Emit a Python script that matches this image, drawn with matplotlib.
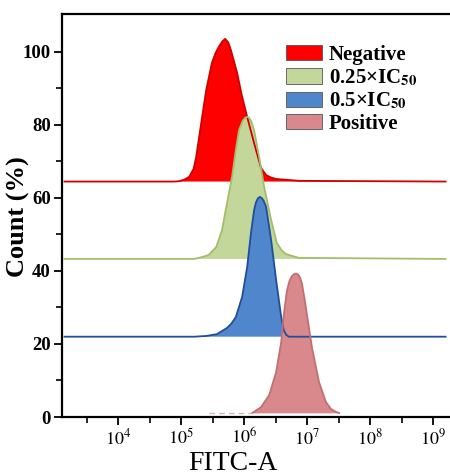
import numpy as np
import matplotlib
matplotlib.use('Agg')
import matplotlib.pyplot as plt
from matplotlib.patches import Patch
from matplotlib.ticker import FixedLocator, NullFormatter

plt.rcParams['font.family'] = ['Liberation Serif', 'DejaVu Serif']
plt.rcParams['mathtext.fontset'] = 'stix'

# histogram outlines: log10(FITC-A) and count (%)
red_logx = [3.15, 4.89, 4.97, 5.05, 5.13, 5.20, 5.24, 5.32, 5.40, 5.49, 5.55, 5.60, 5.65,
            5.70, 5.75, 5.79, 5.89, 5.97, 6.05, 6.16, 6.27, 6.35, 6.43, 6.51, 6.87, 9.20]
red_y = [64.5, 64.5, 64.6, 65.0, 65.8, 68.0, 71.2, 80.5, 89.6, 97.0, 99.8, 101.4, 102.8,
         103.6, 102.6, 100.6, 94.3, 87.7, 82.2, 75.0, 68.2, 66.3, 65.6, 65.2, 64.7, 64.5]
red_base = 64.5

green_logx = [3.15, 5.21, 5.33, 5.44, 5.56, 5.65, 5.73, 5.81, 5.87, 5.92, 5.98, 6.02, 6.05,
              6.08, 6.11, 6.16, 6.24, 6.32, 6.43, 6.52, 6.60, 6.67, 6.87, 9.20]
green_y = [43.3, 43.3, 43.8, 44.4, 46.6, 51.2, 58.6, 65.8, 73.2, 78.6, 81.2, 82.0, 82.2,
           82.0, 81.2, 78.6, 71.2, 63.0, 54.0, 47.7, 45.6, 44.6, 43.6, 43.3]
green_base = 43.3

blue_logx = [3.15, 5.21, 5.40, 5.57, 5.73, 5.80, 5.87, 5.97, 6.05, 6.11, 6.16, 6.19, 6.22,
             6.25, 6.28, 6.31, 6.35, 6.43, 6.51, 6.59, 6.63, 6.67, 6.71, 9.20]
blue_y = [22.0, 22.0, 22.2, 22.7, 24.4, 25.6, 27.4, 32.9, 41.1, 50.4, 56.7, 58.8, 59.9,
          60.3, 60.0, 59.3, 57.6, 48.5, 37.5, 27.4, 23.8, 22.5, 22.0, 22.0]
blue_base = 22.0

pink_logx = [6.13, 6.27, 6.40, 6.51, 6.59, 6.63, 6.68, 6.72, 6.76, 6.80, 6.83, 6.86,
             6.89, 6.92, 6.96, 7.00, 7.08, 7.19, 7.30, 7.38, 7.46, 7.51]
pink_y = [1.1, 2.7, 6.0, 12.3, 20.5, 27.9, 34.5, 37.2, 38.6, 39.2, 39.3, 39.0,
          38.2, 36.5, 32.5, 27.9, 18.9, 9.6, 4.1, 2.2, 1.4, 1.1]
pink_base = 1.0
pink_tail_logx = [5.44, 6.13]

labels = ['Negative', r'0.25×IC$_{\mathbf{50}}$', r'0.5×IC$_{\mathbf{50}}$', 'Positive']
x_major = [4, 5, 6, 7, 8, 9]
y_major = [0, 20, 40, 60, 80, 100]

series = [
  (red_logx, red_y, red_base, '#ff0000', '#d00000'),
  (green_logx, green_y, green_base, '#c4d79b', '#a3be6a'),
  (blue_logx, blue_y, blue_base, '#4f86cc', '#1f4f9a'),
  (pink_logx, pink_y, pink_base, '#d9898b', '#c07074'),
]

fig = plt.figure(figsize=(4.5, 4.76), dpi=100)
ax = fig.add_axes([62/450, 59/476, 388/450, 403/476])

for lx, y, base, fc, ec in series:
  x = 10 ** np.array(lx)
  ax.fill_between(x, base, y, facecolor=fc, edgecolor='none')
  ax.plot(x, y, color=ec, lw=1.3)

ax.plot(10 ** np.array(pink_tail_logx), [pink_base, pink_base], color='#d8b0b0',
        lw=1.0, ls=(0, (4, 3)))

ax.set_xscale('log')
ax.set_xlim(10 ** 3.11, 10 ** 9.27)
ax.set_ylim(0, 110.4)

ax.xaxis.set_major_locator(FixedLocator([10.0 ** k for k in x_major]))
ax.xaxis.set_minor_locator(FixedLocator([10.0 ** (k + 0.5) for k in range(3, 9)]))
ax.xaxis.set_minor_formatter(NullFormatter())
ax.set_xticklabels([r'$10^{%d}$' % k for k in x_major], fontsize=13)
ax.set_yticks(y_major)
ax.set_yticks([10, 30, 50, 70, 90], minor=True)
ax.set_yticklabels([str(v) for v in y_major], fontsize=13.5, fontweight='bold')

ax.tick_params(which='major', length=6, width=1.3, pad=2)
ax.tick_params(which='minor', length=4, width=1.2)
ax.tick_params(top=False, right=False)

for s in ['left', 'bottom', 'top']:
  ax.spines[s].set_linewidth(1.6)
ax.spines['right'].set_visible(False)

fig.text(233/450, 1 - 464/476, 'FITC-A', fontsize=20, ha='center', va='center')
fig.text(18/450, 1 - 217/476, 'Count (%)', fontsize=19, fontweight='bold',
         rotation=90, ha='center', va='center')

handles = [Patch(facecolor=fc, edgecolor='#555555', lw=0.6) for _, _, _, fc, _ in series]
leg = ax.legend(handles, labels, loc='upper left', bbox_to_anchor=((286 - 62) / 388, 1 - 31/403),
                bbox_transform=ax.transAxes, frameon=False, handlelength=1.75, handleheight=0.75,
                handletextpad=0.3, labelspacing=0.12, borderaxespad=0, borderpad=0,
                prop={'family': 'Liberation Serif', 'weight': 'bold', 'size': 15})

fig.savefig('out.png', dpi=100)
